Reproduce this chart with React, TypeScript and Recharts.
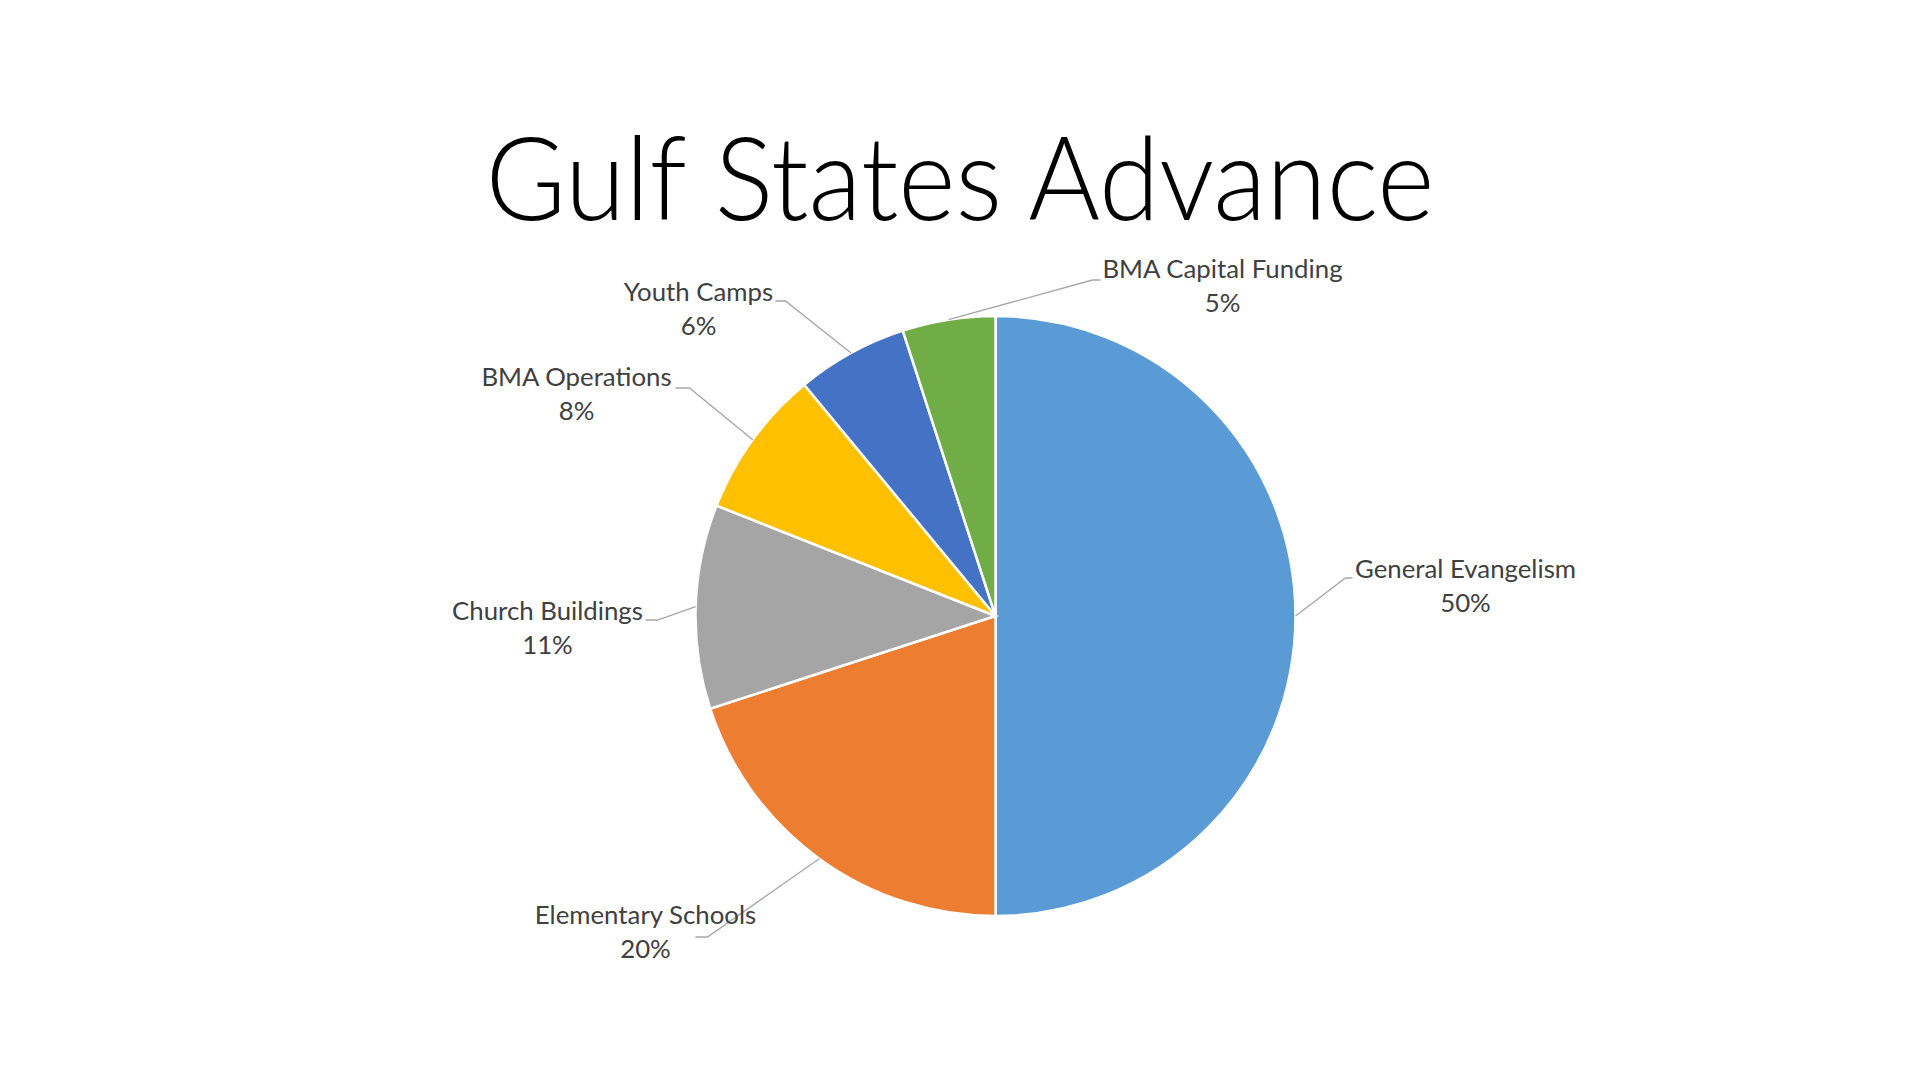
import { PieChart, Pie, Cell } from 'recharts';

// data
const categories = ['General Evangelism', 'Elementary Schools', 'Church Buildings', 'BMA Operations', 'Youth Camps', 'BMA Capital Funding'];
const shares = [50, 20, 11, 8, 6, 5];
const sliceColors = ['#5B9BD5', '#ED7D31', '#A5A5A5', '#FFC000', '#4472C4', '#70AD47'];

// where each label sits relative to the pie centre (Excel places these by hand)
const labelLayout = [
    { tx: 470, ty: -38, ex: 350, ey: -38, hx: 357 },
    { tx: -350, ty: 308, ex: -288, ey: 321, hx: -300 },
    { tx: -448, ty: 4, ex: -338, ey: 4, hx: -350 },
    { tx: -419, ty: -230, ex: -306, ey: -228, hx: -320 },
    { tx: -297, ty: -315, ex: -210, ey: -315, hx: -220 },
    { tx: 227, ty: -338, ex: 97, ey: -336, hx: 105 },
];

const pieData = categories.map((name, i) => ({ name, value: shares[i] }));

const RAD = Math.PI / 180;
const LABEL_FONT = 'Lato, "Open Sans", sans-serif';

const SliceLabel = (props: any) => {
    const { cx, cy, midAngle, outerRadius, percent, name, index } = props;
    const lay = labelLayout[index];
    if (!lay) return null;
    const sx = cx + outerRadius * Math.cos(-midAngle * RAD);
    const sy = cy + outerRadius * Math.sin(-midAngle * RAD);
    const ex = cx + lay.ex;
    const ey = cy + lay.ey;
    const hx = cx + lay.hx;
    const tx = cx + lay.tx;
    const ty = cy + lay.ty;
    return (
        <g>
            <polyline points={`${sx},${sy} ${ex},${ey} ${hx},${ey}`} fill="none" stroke="#a6a6a6" strokeWidth={1.3} />
            <text x={tx} y={ty} textAnchor="middle" fill="#404040" fontSize={25.8} fontFamily={LABEL_FONT}>
                <tspan x={tx}>{name}</tspan>
                <tspan x={tx} dy={34}>{`${Math.round(percent * 100)}%`}</tspan>
            </text>
        </g>
    );
};

export default function App() {
    return (
        <div style={{ position: 'absolute', left: 0, top: 0, width: 1920, height: 1080, background: '#fff' }}>
            <svg width={1920} height={1080} style={{ position: 'absolute', left: 0, top: 0 }}>
                <text
                    x={960}
                    y={220}
                    textAnchor="middle"
                    fontSize={116}
                    fontWeight={300}
                    fontFamily={LABEL_FONT}
                    fill="#000"
                    textLength={949}
                    lengthAdjust="spacingAndGlyphs"
                >
                    Gulf States Advance
                </text>
            </svg>
            <div style={{ position: 'absolute', left: 0, top: 0 }}>
                <PieChart width={1920} height={1080} margin={{ top: 0, right: 0, bottom: 0, left: 0 }}>
                    <Pie
                        data={pieData}
                        dataKey="value"
                        nameKey="name"
                        cx={995.5}
                        cy={616}
                        outerRadius={300}
                        startAngle={90}
                        endAngle={-270}
                        stroke="#ffffff"
                        strokeWidth={2.5}
                        label={SliceLabel}
                        labelLine={false}
                        isAnimationActive={false}
                    >
                        {pieData.map((d, i) => (
                            <Cell key={d.name} fill={sliceColors[i]} />
                        ))}
                    </Pie>
                </PieChart>
            </div>
        </div>
    );
}
